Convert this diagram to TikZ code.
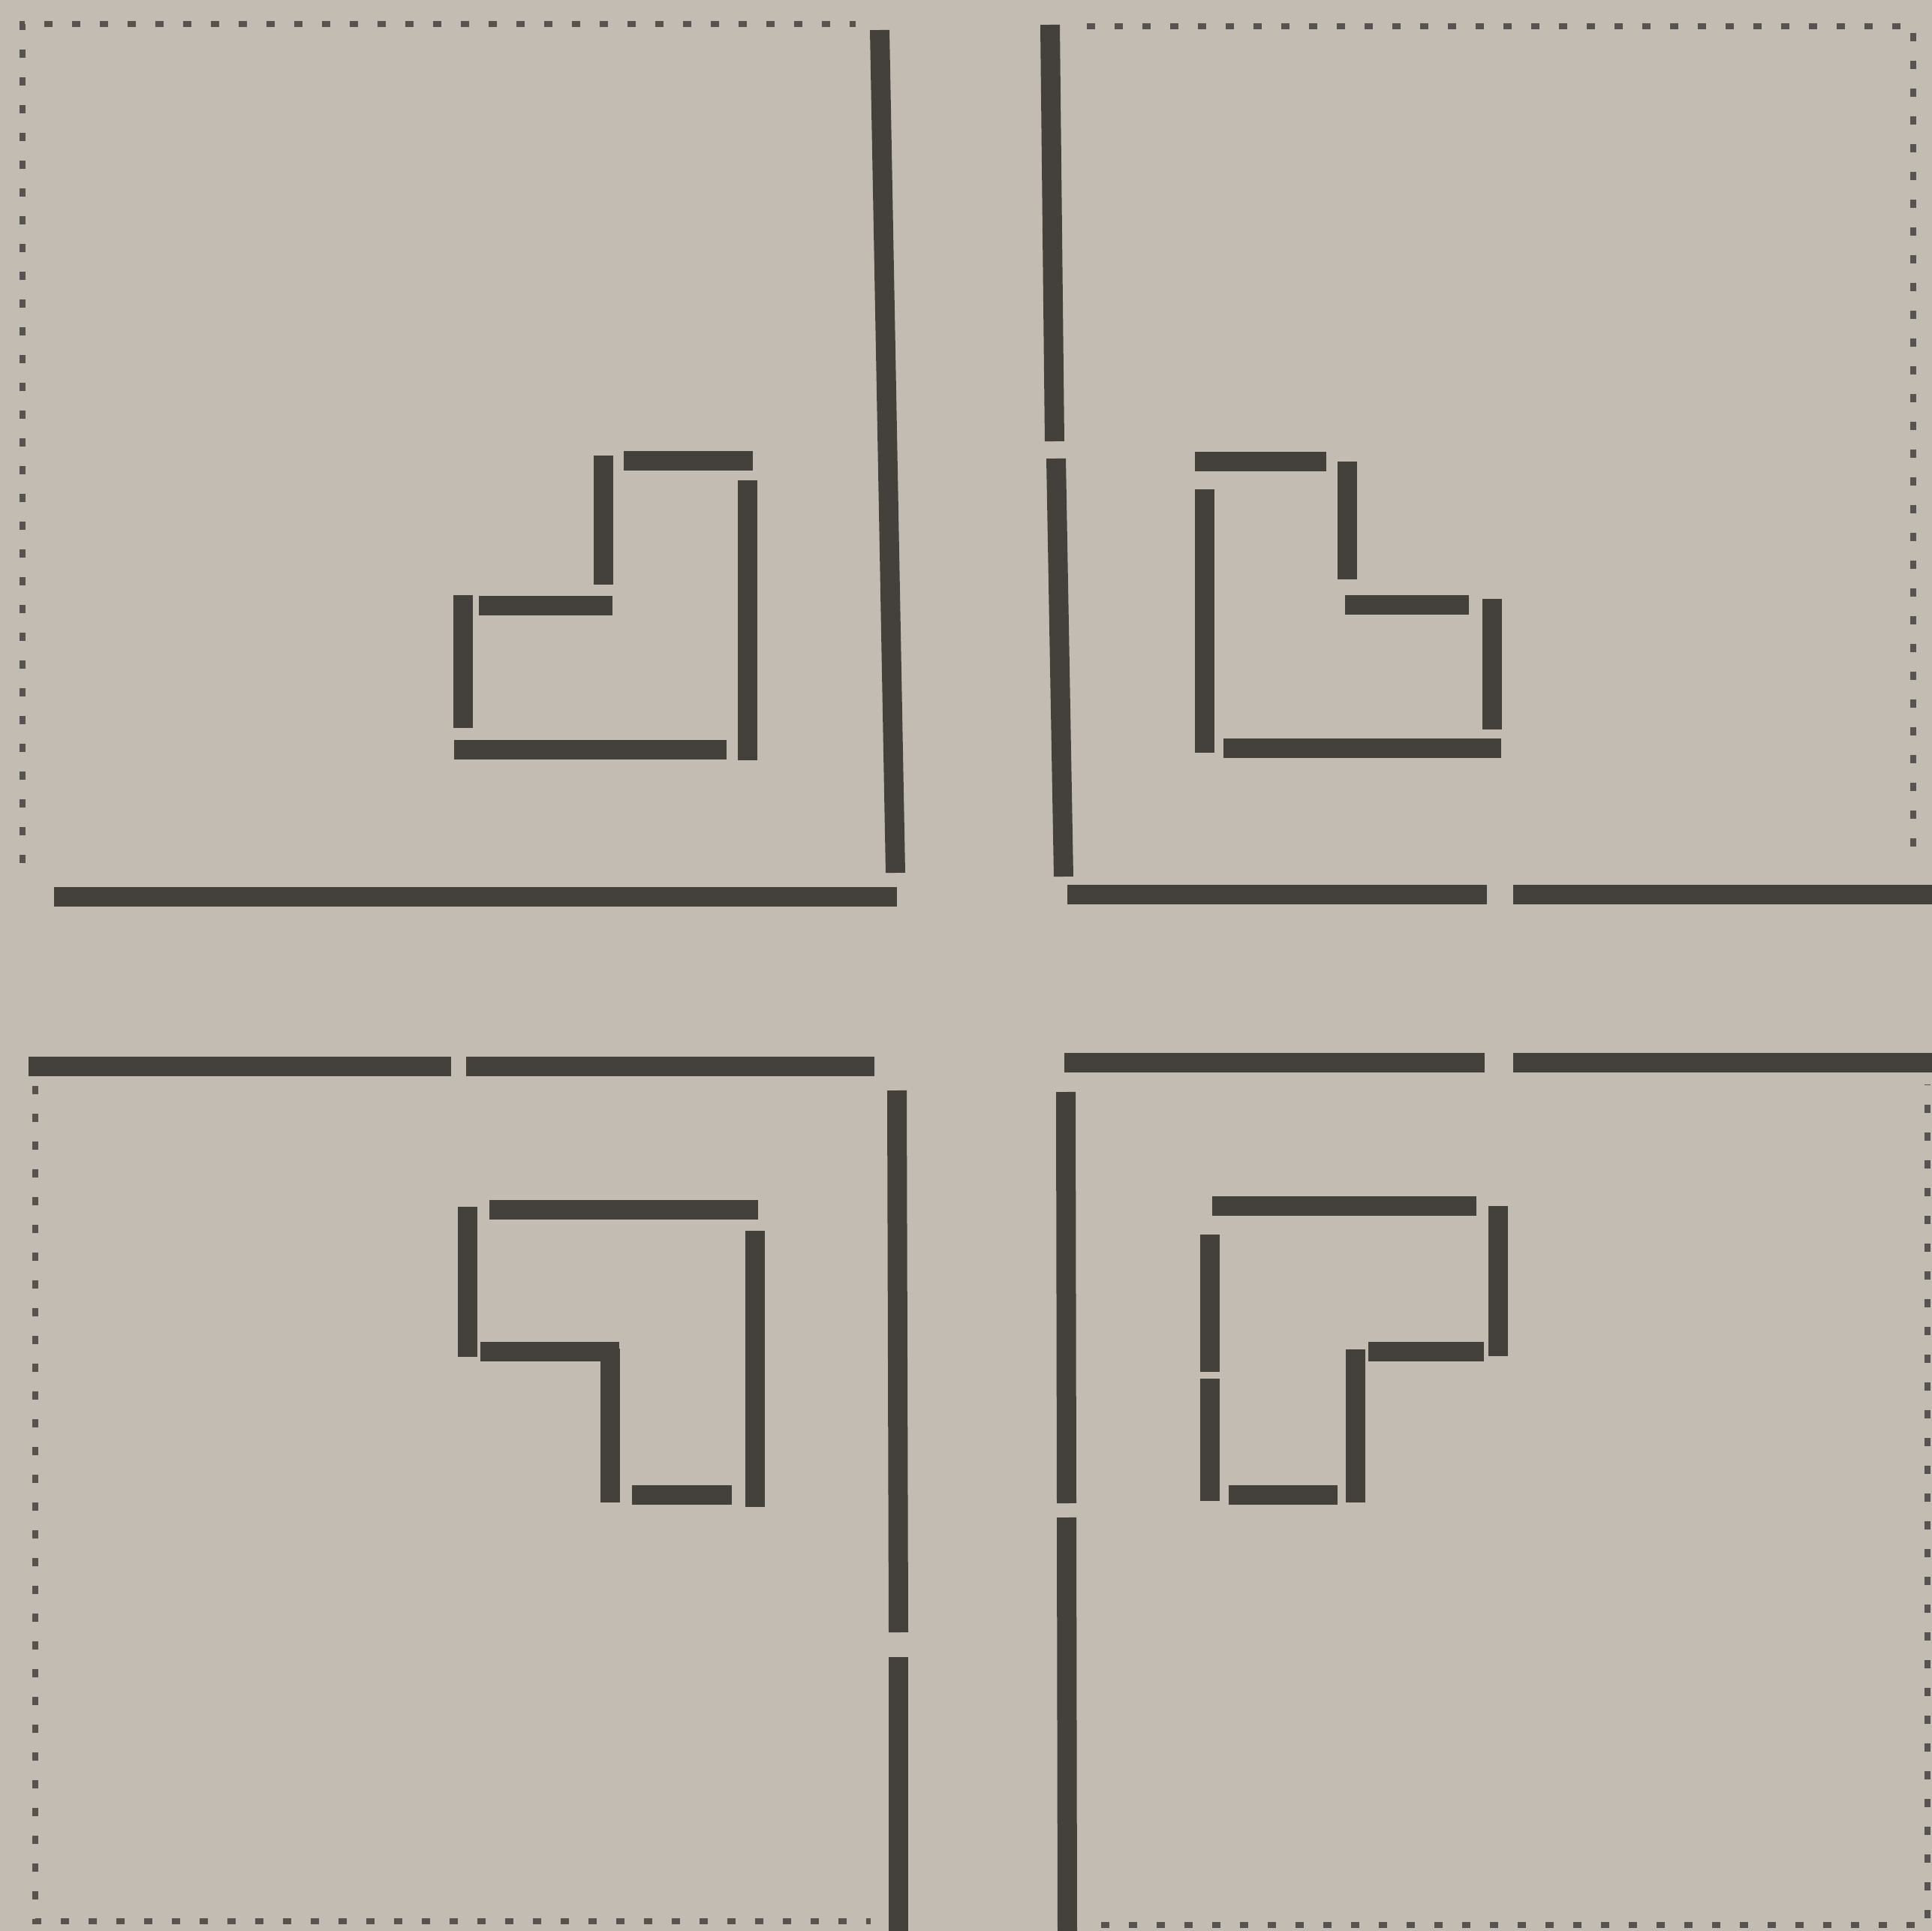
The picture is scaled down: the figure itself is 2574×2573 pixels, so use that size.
\documentclass[tikz,border=0pt]{standalone}
\usepackage{tikz}
\definecolor{paper}{RGB}{194,188,178}
\definecolor{ink}{RGB}{68,64,60}
\begin{document}
\begin{tikzpicture}[
    x=0.1mm, y=-0.1mm,
    bar/.style={draw=ink, line width=2.6mm},
    dotline/.style={draw=ink!90, line width=0.8mm, dash pattern=on 1.1mm off 2.6mm}
]
\fill[paper] (0,0) rectangle (2574,2573);
\useasboundingbox (0,0) rectangle (2574,2573);
% dotted outlines of the four sheets
\draw[dotline] (30,1150) -- (30,32) -- (1140,32);
\draw[dotline] (1448,35) -- (2549,35) -- (2549,1140);
\draw[dotline] (47,1447) -- (47,2560) -- (1160,2560);
\draw[dotline] (1467,2565) -- (2568,2565) -- (2568,1445);
% long walls
\draw[bar] (1172,40) -- (1193,1163);
\draw[bar] (72,1195) -- (1195,1195);
\draw[bar] (1399,33) -- (1405,588);
\draw[bar] (1407,611) -- (1417,1168);
\draw[bar] (1422,1192) -- (1981,1192);
\draw[bar] (2016,1192) -- (2574,1192);
\draw[bar] (38,1421) -- (601,1421);
\draw[bar] (621,1421) -- (1165,1421);
\draw[bar] (1195,1453) -- (1197,2175);
\draw[bar] (1197,2208) -- (1197,2573);
\draw[bar] (1418,1416) -- (1978,1416);
\draw[bar] (2016,1416) -- (2574,1416);
\draw[bar] (1420,1455) -- (1421,2003);
\draw[bar] (1421,2022) -- (1422,2573);
% top left figure
\draw[bar] (831,614) -- (1003,614);
\draw[bar] (804,607) -- (804,779);
\draw[bar] (996,640) -- (996,1013);
\draw[bar] (638,807) -- (816,807);
\draw[bar] (617,793) -- (617,970);
\draw[bar] (605,999) -- (968,999);
% top right figure
\draw[bar] (1592,615) -- (1767,615);
\draw[bar] (1795,615) -- (1795,772);
\draw[bar] (1605,652) -- (1605,1003);
\draw[bar] (1792,806) -- (1957,806);
\draw[bar] (1988,798) -- (1988,972);
\draw[bar] (1630,997) -- (2000,997);
% bottom left figure
\draw[bar] (652,1612) -- (1010,1612);
\draw[bar] (623,1608) -- (623,1808);
\draw[bar] (1006,1640) -- (1006,2008);
\draw[bar] (640,1801) -- (825,1801);
\draw[bar] (813,1797) -- (813,2002);
\draw[bar] (842,1992) -- (975,1992);
% bottom right figure
\draw[bar] (1615,1607) -- (1967,1607);
\draw[bar] (1996,1607) -- (1996,1807);
\draw[bar] (1612,1645) -- (1612,1828);
\draw[bar] (1612,1837) -- (1612,2000);
\draw[bar] (1823,1801) -- (1977,1801);
\draw[bar] (1806,1798) -- (1806,2002);
\draw[bar] (1637,1992) -- (1782,1992);
\end{tikzpicture}
\end{document}
